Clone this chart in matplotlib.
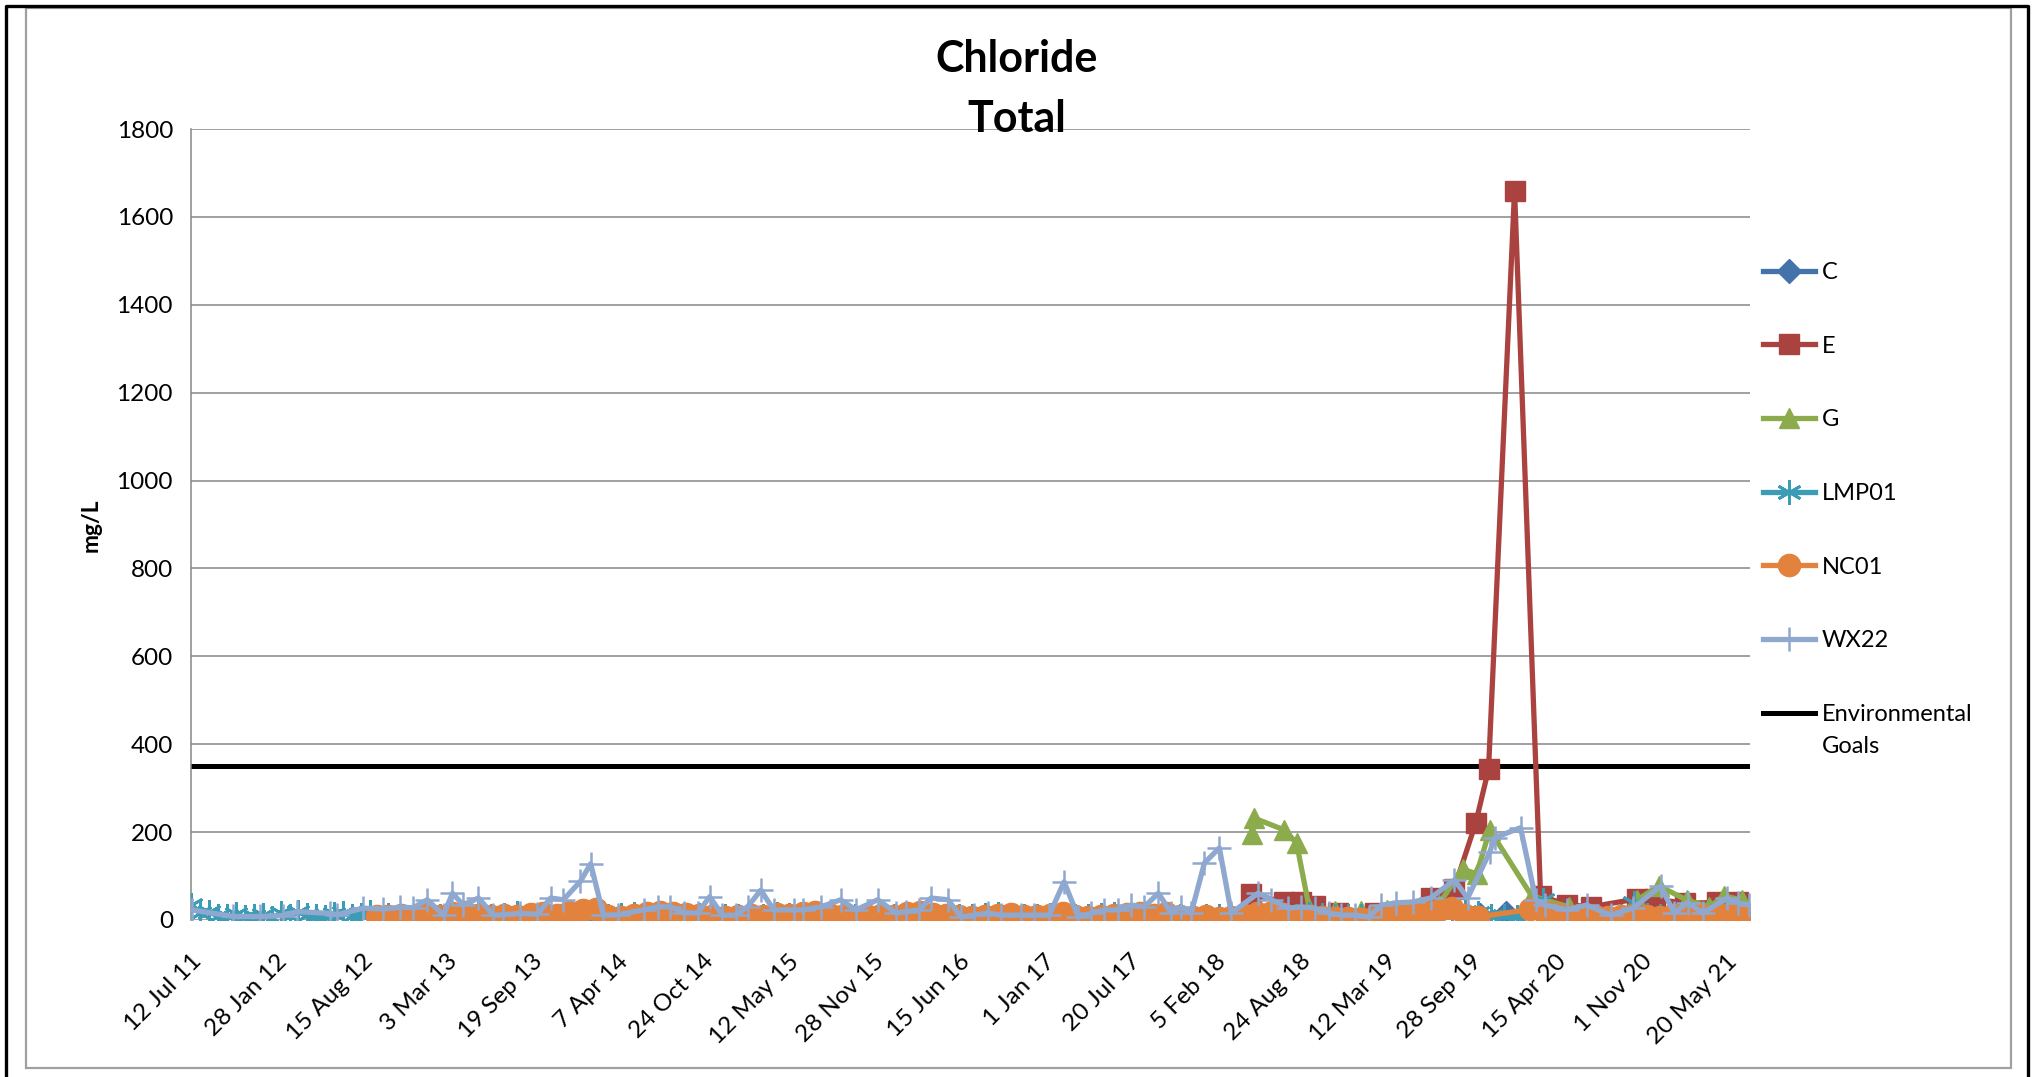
import numpy as np
import matplotlib.pyplot as plt
import pandas as pd
from matplotlib.lines import Line2D
from matplotlib.patches import Rectangle

plt.rcParams['font.family'] = ['Lato', 'DejaVu Sans']

# ---- data ----
c_dates = ['2019-10-20', '2019-12-20', '2020-03-10', '2020-06-15', '2020-09-15', '2020-12-15', '2021-03-15', '2021-06-15']
c_vals = [12, 15, 18, 6, 8, 10, 6, 8]

e_dates = ['2018-05-02', '2018-07-18', '2018-08-27', '2018-09-27', '2018-11-20', '2019-02-15', '2019-04-20',
           '2019-06-28', '2019-08-20', '2019-10-10', '2019-11-09', '2020-01-09', '2020-03-10', '2020-05-10',
           '2020-07-06', '2020-10-22', '2020-12-03', '2021-02-11', '2021-04-27', '2021-06-16']
e_vals = [60, 40, 40, 32, 15, 15, 20, 50, 70, 221, 343, 1660, 55, 35, 30, 48, 48, 38, 40, 42]

g_dates = ['2018-05-03', '2018-05-08', '2018-07-18', '2018-08-16', '2018-09-15', '2018-11-15', '2019-01-15',
           '2019-03-15', '2019-05-15', '2019-07-15', '2019-09-09', '2019-10-12', '2019-11-12', '2020-02-18',
           '2020-05-15', '2020-08-31', '2020-10-22', '2020-12-12', '2021-02-16', '2021-04-10', '2021-05-14',
           '2021-06-26']
g_vals = [195, 232, 205, 175, 25, 20, 20, 22, 25, 35, 116, 105, 205, 55, 30, 2, 45, 78, 45, 30, 55, 45]

lmp01_dates = ['2011-07-12', '2011-08-02', '2011-08-23', '2011-09-13', '2011-10-04', '2011-10-25', '2011-11-15',
               '2011-12-06', '2011-12-27', '2012-01-17', '2012-02-07', '2012-02-28', '2012-03-20', '2012-04-10',
               '2012-05-01', '2012-05-22', '2012-06-12', '2012-07-03', '2012-07-24', '2012-08-14', '2012-09-04',
               '2012-10-15', '2012-11-15', '2012-12-15',
               '2013-01-15', '2013-02-15', '2013-03-15', '2013-04-15', '2013-05-15', '2013-06-15',
               '2013-07-15', '2013-08-15', '2013-09-15', '2013-10-15', '2013-11-15', '2013-12-15',
               '2014-01-15', '2014-02-15', '2014-03-15', '2014-04-15', '2014-05-15', '2014-06-15',
               '2014-07-15', '2014-08-15', '2014-09-15', '2014-10-15', '2014-11-15', '2014-12-15',
               '2015-01-15', '2015-02-15', '2015-03-15', '2015-04-15', '2015-05-15', '2015-06-15',
               '2015-07-15', '2015-08-15', '2015-09-15', '2015-10-15', '2015-11-15', '2015-12-15',
               '2016-01-15', '2016-02-15', '2016-03-15', '2016-04-15', '2016-05-15', '2016-06-15',
               '2016-07-15', '2016-08-15', '2016-09-15', '2016-10-15', '2016-11-15', '2016-12-15',
               '2017-01-15', '2017-02-15', '2017-03-15', '2017-04-15', '2017-05-15', '2017-06-15',
               '2017-07-15', '2017-08-15', '2017-09-15', '2017-10-15', '2017-11-15', '2017-12-15',
               '2018-01-15', '2018-02-15', '2018-03-15', '2018-04-15', '2018-05-15', '2018-06-15',
               '2018-07-15', '2018-08-15', '2018-09-15', '2018-10-15', '2018-11-15', '2018-12-15',
               '2019-01-15', '2019-02-15', '2019-03-15', '2019-04-15', '2019-05-15', '2019-06-15',
               '2019-07-15', '2019-08-15', '2019-09-15', '2019-10-15', '2019-11-15', '2019-12-15',
               '2020-01-15', '2020-02-15', '2020-03-15', '2020-04-15', '2020-05-15', '2020-06-15',
               '2020-07-15', '2020-08-15', '2020-09-15', '2020-10-15', '2020-11-15', '2020-12-15',
               '2021-01-15', '2021-02-15', '2021-03-15', '2021-04-15', '2021-05-15', '2021-06-15',
               '2021-07-10']
lmp01_vals = [35, 15, 18, 10, 8, 14, 6, 10, 12, 5, 15, 8, 18, 12, 10, 6, 14, 16, 8, 12, 18,
              12, 10, 8,
              12, 9, 14, 10, 13, 8, 11, 15, 9, 12, 10, 14,
              12, 16, 9, 11, 13, 10, 14, 12, 9, 11, 13, 10,
              8, 12, 10, 13, 11, 9, 14, 12, 10, 8, 11, 13,
              10, 12, 14, 11, 9, 8, 10, 12, 13, 11, 9, 10,
              12, 10, 8, 9, 11, 13, 12, 14, 10, 12, 9, 8,
              10, 8, 9, 12, 14, 13, 12, 10, 14, 12, 10, 9,
              8, 10, 12, 14, 16, 18, 20, 22, 18, 15, 10, 8,
              6, 12, 45, 5, 4, 6, 5, 3, 10, 38, 12, 8,
              6, 10, 8, 9, 12, 10, 7]

nc01_dates = ['2012-09-21', '2012-10-15', '2012-11-15', '2012-12-15',
              '2013-01-15', '2013-02-15', '2013-03-15', '2013-04-15', '2013-05-15', '2013-06-15',
              '2013-07-15', '2013-08-15', '2013-09-15', '2013-10-15', '2013-11-15', '2013-12-15',
              '2014-01-15', '2014-02-15', '2014-03-15', '2014-04-15', '2014-05-15', '2014-06-15',
              '2014-07-15', '2014-08-15', '2014-09-15', '2014-10-15', '2014-11-15', '2014-12-15',
              '2015-01-15', '2015-02-15', '2015-03-15', '2015-04-15', '2015-05-15', '2015-06-15',
              '2015-07-15', '2015-08-15', '2015-09-15', '2015-10-15', '2015-11-15', '2015-12-15',
              '2016-01-15', '2016-02-15', '2016-03-15', '2016-04-15', '2016-05-15', '2016-06-15',
              '2016-07-15', '2016-08-15', '2016-09-15', '2016-10-15', '2016-11-15', '2016-12-15',
              '2017-01-15', '2017-02-15', '2017-03-15', '2017-04-15', '2017-05-15', '2017-06-15',
              '2017-07-15', '2017-08-15', '2017-09-15', '2017-10-15', '2017-11-15', '2017-12-15',
              '2018-01-15', '2018-02-15', '2018-03-15', '2018-04-15', '2018-05-15', '2018-06-15',
              '2018-07-15', '2018-08-15', '2018-09-15', '2018-10-15', '2018-11-15', '2018-12-15',
              '2019-01-15', '2019-02-15', '2019-03-15', '2019-04-15', '2019-05-15', '2019-06-15',
              '2019-07-15', '2019-08-15', '2019-09-15', '2019-10-15',
              '2020-02-15', '2020-03-15', '2020-04-15', '2020-05-15', '2020-06-15',
              '2020-07-15', '2020-08-15', '2020-09-15', '2020-10-15', '2020-11-15', '2020-12-15',
              '2021-01-15', '2021-02-15', '2021-03-15', '2021-04-15', '2021-05-15', '2021-06-15',
              '2021-07-08']
nc01_vals = [10, 8, 12, 10,
             14, 8, 16, 18, 12, 10, 12, 9, 14, 16, 12, 18,
             22, 25, 8, 6, 12, 15, 18, 16, 14, 12, 8, 6,
             9, 12, 10, 14, 12, 15, 18, 13, 10, 6, 8, 12,
             10, 15, 18, 14, 12, 8, 6, 10, 12, 14, 10, 8,
             12, 15, 9, 6, 10, 12, 14, 16, 12, 15, 10, 6,
             8, 5, 7, 12, 15, 17, 14, 10, 8, 6, 5, 4,
             3, 6, 9, 12, 15, 18, 22, 28, 12, 7,
             24, 20, 14, 8, 4, 10, 6, 8, 12, 9, 6,
             11, 8, 13, 9, 12, 14, 11]

wx22_dates = ['2011-07-14', '2011-10-19', '2011-12-21', '2012-02-13', '2012-03-17', '2012-06-02', '2012-06-19',
              '2012-08-19', '2012-10-05', '2012-11-14', '2012-12-14', '2013-01-16', '2013-02-23', '2013-03-16',
              '2013-04-10', '2013-05-16', '2013-06-20', '2013-07-13', '2013-08-22', '2013-10-01', '2013-11-01',
              '2013-12-01', '2014-01-10', '2014-02-03', '2014-03-05', '2014-04-07', '2014-06-07', '2014-07-10',
              '2014-08-09', '2014-09-09', '2014-10-12', '2014-11-09', '2014-12-09', '2015-01-09', '2015-02-06',
              '2015-03-09', '2015-04-08', '2015-05-25', '2015-06-15', '2015-07-28', '2015-09-12', '2015-10-18',
              '2015-12-08', '2016-01-20', '2016-02-12', '2016-03-14', '2016-04-11', '2016-05-21', '2016-06-20',
              '2016-07-21', '2016-08-23', '2016-09-22', '2016-11-08', '2016-12-09', '2017-01-13', '2017-02-17',
              '2017-03-22', '2017-04-21', '2017-05-22', '2017-06-24', '2017-07-24', '2017-08-24', '2017-09-26',
              '2017-10-26', '2017-11-19', '2017-12-12', '2018-01-12', '2018-02-16', '2018-03-16', '2018-05-18',
              '2018-06-18', '2018-07-28', '2018-08-27', '2018-09-27', '2018-10-30', '2018-11-29', '2018-12-30',
              '2019-02-01', '2019-03-03', '2019-04-07', '2019-05-15', '2019-06-26', '2019-08-21', '2019-09-21',
              '2019-11-12', '2019-11-23', '2020-01-23', '2020-02-28', '2020-03-20', '2020-05-10', '2020-06-26',
              '2020-08-22', '2020-10-12', '2020-12-17', '2021-01-17', '2021-02-18', '2021-03-26', '2021-05-21',
              '2021-06-16', '2021-07-12']
wx22_vals = [23, 8, 8, 10, 19, 15, 12, 27, 25, 29, 28, 46, 11, 61, 34, 50, 11, 12, 15, 13, 50,
             46, 88, 128, 11, 12, 23, 30, 30, 16, 16, 53, 11, 11, 30, 68, 23, 23, 23, 30, 46, 23,
             46, 16, 19, 23, 50, 46, 7, 11, 16, 11, 11, 11, 11, 87, 7, 15, 23, 23, 34, 30, 61,
             16, 30, 16, 130, 164, 16, 61, 46, 27, 30, 27, 16, 11, 11, 7, 34, 39, 41, 50, 91, 50,
             155, 187, 210, 46, 34, 23, 34, 11, 27, 77, 16, 39, 16, 50, 39, 34]

goal_dates = ['2011-07-12', '2021-07-08']
goal_vals = [350, 350]

tick_dates = ['2011-07-12', '2012-01-28', '2012-08-15', '2013-03-03', '2013-09-19', '2014-04-07',
              '2014-10-24', '2015-05-12', '2015-11-28', '2016-06-15', '2017-01-01', '2017-07-20',
              '2018-02-05', '2018-08-24', '2019-03-12', '2019-09-28', '2020-04-15', '2020-11-01',
              '2021-05-20']
tick_labels = ['12 Jul 11', '28 Jan 12', '15 Aug 12', '3 Mar 13', '19 Sep 13', '7 Apr 14',
               '24 Oct 14', '12 May 15', '28 Nov 15', '15 Jun 16', '1 Jan 17', '20 Jul 17',
               '5 Feb 18', '24 Aug 18', '12 Mar 19', '28 Sep 19', '15 Apr 20', '1 Nov 20',
               '20 May 21']

# ---- figure ----
W, H = 2033, 1077
fig = plt.figure(figsize=(W / 100, H / 100), dpi=100)
ax = fig.add_axes([191 / W, 1 - 920 / H, (1750 - 191) / W, (920 - 129) / H])

lw = 3.8
ax.plot(pd.to_datetime(c_dates), c_vals, color='#4472AA', lw=lw, marker='D', ms=12, label='C', zorder=3)
ax.plot(pd.to_datetime(e_dates), e_vals, color='#AA4340', lw=lw, marker='s', ms=14, label='E', zorder=4)
ax.plot(pd.to_datetime(g_dates), g_vals, color='#8BAB4C', lw=lw, marker='^', ms=15, label='G', zorder=5)
ax.plot(pd.to_datetime(lmp01_dates), lmp01_vals, color='#3C9CB5', lw=lw, marker=(6, 2, 0), ms=18, mew=2.0,
        label='LMP01', zorder=6)
ax.plot(pd.to_datetime(nc01_dates), nc01_vals, color='#E3823C', lw=lw, marker='o', ms=16, label='NC01', zorder=7)
ax.plot(pd.to_datetime(wx22_dates), wx22_vals, color='#8FA8CF', lw=lw, marker='+', ms=17, mew=1.8,
        label='WX22', zorder=8)
ax.plot(pd.to_datetime(goal_dates), goal_vals, color='black', lw=3.6, label='Environmental', zorder=2)

ax.set_ylim(0, 1800)
ax.set_yticks(np.arange(0, 1801, 200))
ax.set_xlim(pd.Timestamp('2011-07-12'), pd.Timestamp('2021-07-14'))
ax.set_xticks(pd.to_datetime(tick_dates))
ax.set_xticklabels(tick_labels, rotation=45, ha='right', rotation_mode='anchor')
ax.tick_params(axis='both', length=0, labelsize=17.5)
ax.tick_params(axis='x', pad=22)
ax.tick_params(axis='y', pad=13)
ax.grid(axis='y', color='#868686', lw=1.1)
ax.set_axisbelow(True)
for s in ['top', 'right', 'bottom']:
    ax.spines[s].set_visible(False)
ax.spines['left'].set_color('#868686')
ax.spines['left'].set_linewidth(1.1)

fig.text(91 / W, 1 - 525 / H, 'mg/L', rotation=90, ha='center', va='center', fontsize=16.5, fontweight='bold')
fig.text(0.5, 1 - 59 / H, 'Chloride', ha='center', va='center', fontsize=31, fontweight='bold')
fig.text(0.5, 1 - 119 / H, 'Total', ha='center', va='center', fontsize=31, fontweight='bold')

leg = fig.legend(loc='upper left', bbox_to_anchor=(1763 / W, 1 - 262 / H), frameon=False, fontsize=17,
                 handlelength=2.2, handletextpad=0.3, labelspacing=2.23, borderpad=0, borderaxespad=0)

# second line of the last legend label, placed under the first one
fig.canvas.draw()
bb = leg.get_texts()[-1].get_window_extent()
fig.text(bb.x0 / W, ((bb.y0 + bb.y1) / 2 - 32) / H, 'Goals', ha='left', va='center', fontsize=17)

# chart area border and outer frame
fig.patches.append(Rectangle((26 / W, 1 - 1068 / H), (2011 - 26) / W, (1068 - 8) / H,
                             transform=fig.transFigure, fill=False, ec='#A0A0A0', lw=1.6))
fig.lines.append(Line2D([5.5 / W, 5.5 / W, 2028.5 / W, 2028.5 / W], [0, 1 - 5.5 / H, 1 - 5.5 / H, 0],
                        transform=fig.transFigure, color='black', lw=2.4))

fig.savefig('out.png', dpi=100)
